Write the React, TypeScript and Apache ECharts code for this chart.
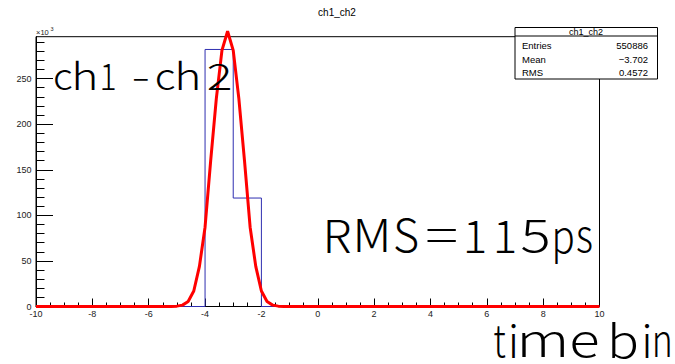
import React, { useEffect, useRef } from "react";
import * as echarts from "echarts";

// Histogram (bin width 1, values in units of 10^3)
const binLefts = [-10, -9, -8, -7, -6, -5, -4, -3, -2, -1, 0, 1, 2, 3, 4, 5, 6, 7, 8, 9];
const binValues = [0, 0, 0, 0, 0, 0, 282, 119, 0, 0, 0, 0, 0, 0, 0, 0, 0, 0, 0, 0];
const binRight = 10;

// Gaussian fit curve samples (10^3)
const fitX = [-10, -5.4, -5.2, -5.0, -4.8, -4.6, -4.4, -4.2, -4.0, -3.8, -3.6, -3.4, -3.2, -3.0, -2.8, -2.6, -2.4, -2.2, -2.0, -1.8, -1.6, -1.4, -1.2, -1.0, 10];
const fitY = [0, 0, 0.1, 0.4, 1.5, 5.5, 17, 44, 87, 160, 228, 281, 302, 281, 228, 160, 87, 44, 17, 5.5, 1.5, 0.4, 0.1, 0, 0];

const yMajorTicks = [0, 50, 100, 150, 200, 250];
const yMinorTicks = [10, 20, 30, 40, 60, 70, 80, 90, 110, 120, 130, 140, 160, 170, 180, 190, 210, 220, 230, 240, 260, 270, 280, 290];

const histTitle = "ch1_ch2";
const statLabels = ["Entries", "Mean", "RMS"];
const statValues = ["550886", "\u22123.702", "0.4572"];

const labelChannel = "ch1-ch2";
const labelRms = "RMS=115ps";
const labelAxis = "time bin";

const ROOTFONT = '"Liberation Sans", Arial, sans-serif';
const BIGFONT = '"Noto Sans CJK JP", "Noto Sans", sans-serif';

let measureCtx: CanvasRenderingContext2D | null = null;
function inkBox(ch: string, size: number) {
  if (!measureCtx) measureCtx = document.createElement("canvas").getContext("2d");
  if (!measureCtx) return null;
  measureCtx.font = `300 ${size}px ${BIGFONT}`;
  measureCtx.textAlign = "left";
  const m = measureCtx.measureText(ch);
  const l = -m.actualBoundingBoxLeft;
  const r = m.actualBoundingBoxRight;
  if (!(r - l > 0)) return null;
  return { l, r };
}

// place each glyph of a big annotation over its measured ink span [left, right]
function glyphs(text: string, spans: number[][], y: number, size: number) {
  const out: any[] = [];
  let k = 0;
  for (const ch of Array.from(text)) {
    if (ch === " ") continue;
    const [a, b] = spans[k];
    const target = b - a;
    const box = inkBox(ch, size);
    let sx = 1;
    let off = 0;
    if (box) {
      const w = box.r - box.l;
      if (target > 8) sx = Math.max(0.8, Math.min(1.6, target / w));
      off = -(box.l + box.r) / 2;
    }
    out.push({
      type: "text", z: 21, x: (a + b) / 2, y, scaleX: sx,
      style: { text: ch, x: off, y: 0, align: "left", verticalAlign: "middle", fontSize: size, fontWeight: 300, fontFamily: BIGFONT, fill: "#000" },
    });
    k++;
  }
  return out;
}

export default function App() {
  const ref = useRef<HTMLDivElement>(null);
  useEffect(() => {
    if (!ref.current) return;
    const chart = echarts.init(ref.current, undefined, { renderer: "svg" });
    const histData: number[][] = binLefts.map((x, i) => [x, binValues[i]]);
    histData.push([binRight, binValues[binValues.length - 1]]);
    const fitData = fitX.map((x, i) => [x, fitY[i]]);

    const statGraphics: any[] = [];
    statLabels.forEach((l, i) => {
      const y = 45.7 + i * 13.5;
      statGraphics.push({
        type: "text", z: 20,
        style: { text: l, x: 522, y, align: "left", verticalAlign: "middle", fontSize: 9.5, fontFamily: ROOTFONT, fill: "#000" },
      });
      statGraphics.push({
        type: "text", z: 20,
        style: { text: statValues[i], x: 648, y, align: "right", verticalAlign: "middle", fontSize: 9.5, fontFamily: ROOTFONT, fill: "#000" },
      });
    });

    chart.setOption({
      animation: false,
      backgroundColor: "#fff",
      grid: { left: 36, right: 75.5, top: 36.7, bottom: 57.5, show: true, borderColor: "#000", borderWidth: 1, backgroundColor: "transparent" },
      xAxis: {
        type: "value", min: -10, max: 10, interval: 2,
        axisLine: { show: true, onZero: false, lineStyle: { color: "#000", width: 1 } },
        axisTick: { show: true, inside: true, length: 8, lineStyle: { color: "#000", width: 1 } },
        minorTick: { show: true, splitNumber: 4, length: 4, lineStyle: { color: "#000", width: 1 } },
        axisLabel: { fontSize: 9, color: "#222", margin: 3, fontFamily: ROOTFONT },
        splitLine: { show: false },
        minorSplitLine: { show: false },
      },
      yAxis: [
        {
          type: "value", min: 0, max: 296, position: "left", offset: 0,
          axisLine: { show: true, onZero: false, lineStyle: { color: "#000", width: 1 } },
          axisTick: { show: true, inside: true, length: 17, customValues: yMajorTicks, lineStyle: { color: "#000", width: 1 } },
          axisLabel: { show: true, customValues: yMajorTicks, fontSize: 9, color: "#222", margin: 4.5, fontFamily: ROOTFONT },
          splitLine: { show: false },
        },
        {
          type: "value", min: 0, max: 296, position: "left", offset: 0,
          axisLine: { show: false, onZero: false },
          axisTick: { show: true, inside: true, length: 8.5, customValues: yMinorTicks, lineStyle: { color: "#000", width: 1 } },
          axisLabel: { show: false },
          splitLine: { show: false },
        },
      ],
      series: [
        {
          type: "line", step: "end", data: histData, xAxisIndex: 0, yAxisIndex: 0,
          showSymbol: false, symbol: "none", z: 2,
          lineStyle: { color: "#2e2eb0", width: 1 },
        },
        {
          type: "line", data: fitData, xAxisIndex: 0, yAxisIndex: 0,
          showSymbol: false, symbol: "none", smooth: false, clip: false, z: 3,
          lineStyle: { color: "#ff0000", width: 3 },
        },
      ],
      graphic: [
        { type: "text", z: 20, style: { text: histTitle, x: 337, y: 12, align: "center", verticalAlign: "middle", fontSize: 10, fontFamily: ROOTFONT, fill: "#000" } },
        { type: "text", z: 20, style: { text: "\u00d710", x: 36, y: 32, align: "left", verticalAlign: "middle", fontSize: 7.5, fontFamily: ROOTFONT, fill: "#222" } },
        { type: "text", z: 20, style: { text: "3", x: 50.5, y: 29.3, align: "left", verticalAlign: "middle", fontSize: 5.5, fontFamily: ROOTFONT, fill: "#222" } },
        { type: "rect", z: 19, shape: { x: 515, y: 27.5, width: 142.5, height: 51.5 }, style: { fill: "#fff", stroke: "#000", lineWidth: 1 } },
        { type: "line", z: 20, shape: { x1: 515, y1: 36, x2: 657.5, y2: 36 }, style: { stroke: "#000", lineWidth: 1 } },
        { type: "text", z: 20, style: { text: histTitle, x: 586, y: 31.7, align: "center", verticalAlign: "middle", fontSize: 9, fontFamily: ROOTFONT, fill: "#000" } },
        ...statGraphics,
        ...glyphs(labelChannel, [[55, 72], [75, 95], [102, 115], [133, 148], [157, 175], [178, 198], [208, 230]], 73.8, 37),
        ...glyphs(labelRms, [[326.7, 350], [356.7, 386.7], [395, 418], [426.7, 456.7], [466.7, 485], [496.7, 515], [521.7, 548], [555, 573], [576.7, 591.7]], 232.8, 45),
        ...glyphs(labelAxis, [[495, 505], [511.7, 515], [521.7, 565], [571.7, 598.3], [611.7, 636.7], [645, 648.3], [655, 670]], 338, 44.5),
      ],
    });
    return () => chart.dispose();
  }, []);
  return <div ref={ref} style={{ position: "absolute", left: 0, top: 0, width: 675, height: 364, background: "#fff" }} />;
}
